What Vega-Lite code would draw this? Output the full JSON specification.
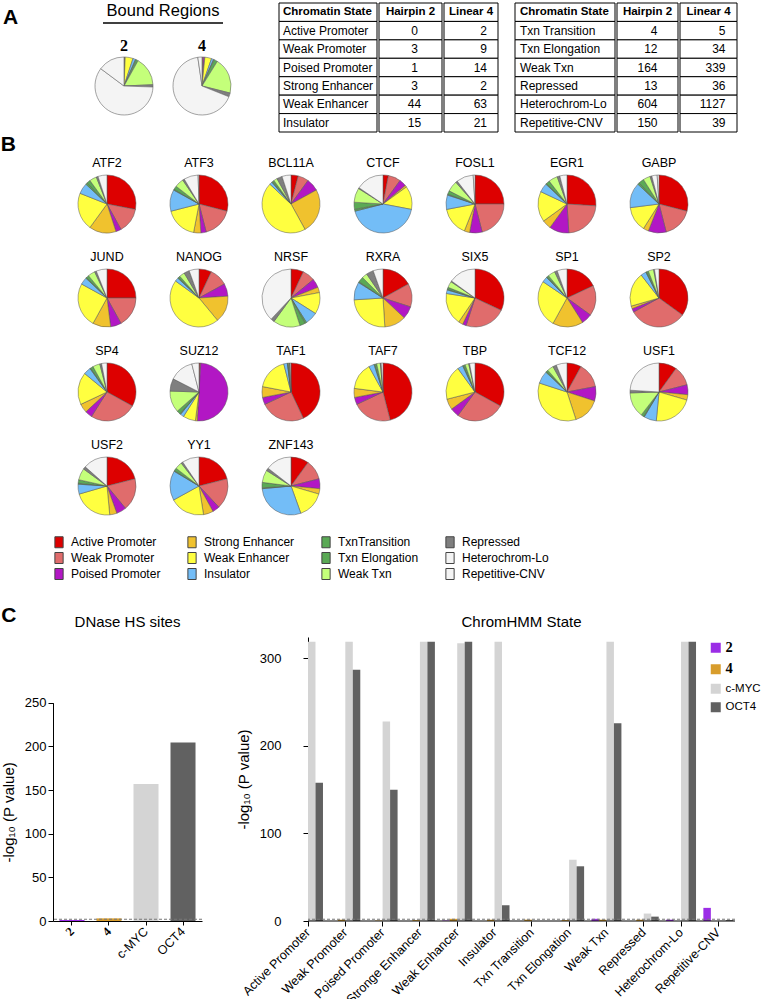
{
"$schema": "https://vega.github.io/schema/vega-lite/v6.json",
"background": "white",
"padding": {"left": 0, "top": 0, "right": 0, "bottom": 0},
"config": {
  "view": {"stroke": null},
  "font": "Liberation Sans",
  "title": {"font": "Liberation Sans", "fontWeight": "normal", "fontSize": 15, "color": "black"},
  "axis": {"labelFont": "Liberation Sans", "titleFont": "Liberation Sans", "labelColor": "black", "titleColor": "black", "domainColor": "black", "tickColor": "black", "grid": false, "titleFontWeight": "normal"},
  "header": {"labelFont": "Liberation Sans", "labelColor": "black"}
},
"datasets": {
  "tableA": [
    {"state": "Active Promoter", "hairpin": 0, "linear": 2},
    {"state": "Weak Promoter", "hairpin": 3, "linear": 9},
    {"state": "Poised Promoter", "hairpin": 1, "linear": 14},
    {"state": "Strong Enhancer", "hairpin": 3, "linear": 2},
    {"state": "Weak Enhancer", "hairpin": 44, "linear": 63},
    {"state": "Insulator", "hairpin": 15, "linear": 21},
    {"state": "Txn Transition", "hairpin": 4, "linear": 5},
    {"state": "Txn Elongation", "hairpin": 12, "linear": 34},
    {"state": "Weak Txn", "hairpin": 164, "linear": 339},
    {"state": "Repressed", "hairpin": 13, "linear": 36},
    {"state": "Heterochrom-Lo", "hairpin": 604, "linear": 1127},
    {"state": "Repetitive-CNV", "hairpin": 150, "linear": 39}
  ],
  "stateOrder": [
    {"state": "Active Promoter", "k": 1}, {"state": "Weak Promoter", "k": 2}, {"state": "Poised Promoter", "k": 3},
    {"state": "Strong Enhancer", "k": 4}, {"state": "Weak Enhancer", "k": 5}, {"state": "Insulator", "k": 6},
    {"state": "Txn Transition", "k": 7}, {"state": "Txn Elongation", "k": 8}, {"state": "Weak Txn", "k": 9},
    {"state": "Repressed", "k": 10}, {"state": "Heterochrom-Lo", "k": 11}, {"state": "Repetitive-CNV", "k": 12}
  ],
  "pies": [
    {"tf":"ATF2","s":"Active Promoter","v":28},{"tf":"ATF2","s":"Weak Promoter","v":14},{"tf":"ATF2","s":"Poised Promoter","v":3},{"tf":"ATF2","s":"Strong Enhancer","v":15},{"tf":"ATF2","s":"Weak Enhancer","v":21},{"tf":"ATF2","s":"Insulator","v":6},{"tf":"ATF2","s":"Txn Transition","v":1},{"tf":"ATF2","s":"Txn Elongation","v":2},{"tf":"ATF2","s":"Weak Txn","v":4},{"tf":"ATF2","s":"Repressed","v":1},{"tf":"ATF2","s":"Heterochrom-Lo","v":5},
    {"tf":"ATF3","s":"Active Promoter","v":29},{"tf":"ATF3","s":"Weak Promoter","v":17},{"tf":"ATF3","s":"Poised Promoter","v":3},{"tf":"ATF3","s":"Strong Enhancer","v":4},{"tf":"ATF3","s":"Weak Enhancer","v":18},{"tf":"ATF3","s":"Insulator","v":12},{"tf":"ATF3","s":"Txn Transition","v":0.5},{"tf":"ATF3","s":"Txn Elongation","v":2},{"tf":"ATF3","s":"Weak Txn","v":5},{"tf":"ATF3","s":"Repressed","v":1},{"tf":"ATF3","s":"Heterochrom-Lo","v":8},{"tf":"ATF3","s":"Repetitive-CNV","v":0.5},
    {"tf":"BCL11A","s":"Active Promoter","v":4},{"tf":"BCL11A","s":"Weak Promoter","v":6},{"tf":"BCL11A","s":"Poised Promoter","v":7},{"tf":"BCL11A","s":"Strong Enhancer","v":25},{"tf":"BCL11A","s":"Weak Enhancer","v":45},{"tf":"BCL11A","s":"Insulator","v":1.5},{"tf":"BCL11A","s":"Txn Transition","v":0.5},{"tf":"BCL11A","s":"Txn Elongation","v":1},{"tf":"BCL11A","s":"Weak Txn","v":2},{"tf":"BCL11A","s":"Repressed","v":3},{"tf":"BCL11A","s":"Heterochrom-Lo","v":5},
    {"tf":"CTCF","s":"Active Promoter","v":3},{"tf":"CTCF","s":"Weak Promoter","v":7},{"tf":"CTCF","s":"Poised Promoter","v":4},{"tf":"CTCF","s":"Strong Enhancer","v":1},{"tf":"CTCF","s":"Weak Enhancer","v":13},{"tf":"CTCF","s":"Insulator","v":43},{"tf":"CTCF","s":"Txn Transition","v":1},{"tf":"CTCF","s":"Txn Elongation","v":4},{"tf":"CTCF","s":"Weak Txn","v":8},{"tf":"CTCF","s":"Repressed","v":0.5},{"tf":"CTCF","s":"Heterochrom-Lo","v":15.5},
    {"tf":"FOSL1","s":"Active Promoter","v":25},{"tf":"FOSL1","s":"Weak Promoter","v":21},{"tf":"FOSL1","s":"Poised Promoter","v":7},{"tf":"FOSL1","s":"Strong Enhancer","v":3},{"tf":"FOSL1","s":"Weak Enhancer","v":16},{"tf":"FOSL1","s":"Insulator","v":8},{"tf":"FOSL1","s":"Txn Transition","v":0.5},{"tf":"FOSL1","s":"Txn Elongation","v":2},{"tf":"FOSL1","s":"Weak Txn","v":6},{"tf":"FOSL1","s":"Repressed","v":1},{"tf":"FOSL1","s":"Heterochrom-Lo","v":9.5},{"tf":"FOSL1","s":"Repetitive-CNV","v":1},
    {"tf":"EGR1","s":"Active Promoter","v":26},{"tf":"EGR1","s":"Weak Promoter","v":23},{"tf":"EGR1","s":"Poised Promoter","v":11},{"tf":"EGR1","s":"Strong Enhancer","v":5},{"tf":"EGR1","s":"Weak Enhancer","v":17},{"tf":"EGR1","s":"Insulator","v":5},{"tf":"EGR1","s":"Txn Transition","v":0.5},{"tf":"EGR1","s":"Txn Elongation","v":2},{"tf":"EGR1","s":"Weak Txn","v":5},{"tf":"EGR1","s":"Repressed","v":1.5},{"tf":"EGR1","s":"Heterochrom-Lo","v":4},
    {"tf":"GABP","s":"Active Promoter","v":29},{"tf":"GABP","s":"Weak Promoter","v":17},{"tf":"GABP","s":"Poised Promoter","v":10},{"tf":"GABP","s":"Strong Enhancer","v":3},{"tf":"GABP","s":"Weak Enhancer","v":14},{"tf":"GABP","s":"Insulator","v":14},{"tf":"GABP","s":"Txn Transition","v":1},{"tf":"GABP","s":"Txn Elongation","v":3},{"tf":"GABP","s":"Weak Txn","v":4},{"tf":"GABP","s":"Repressed","v":1},{"tf":"GABP","s":"Heterochrom-Lo","v":3},{"tf":"GABP","s":"Repetitive-CNV","v":1},
    {"tf":"JUND","s":"Active Promoter","v":25},{"tf":"JUND","s":"Weak Promoter","v":17},{"tf":"JUND","s":"Poised Promoter","v":6},{"tf":"JUND","s":"Strong Enhancer","v":10},{"tf":"JUND","s":"Weak Enhancer","v":25},{"tf":"JUND","s":"Insulator","v":4},{"tf":"JUND","s":"Txn Transition","v":0.5},{"tf":"JUND","s":"Txn Elongation","v":1.5},{"tf":"JUND","s":"Weak Txn","v":4},{"tf":"JUND","s":"Repressed","v":1},{"tf":"JUND","s":"Heterochrom-Lo","v":6},
    {"tf":"NANOG","s":"Active Promoter","v":7},{"tf":"NANOG","s":"Weak Promoter","v":10},{"tf":"NANOG","s":"Poised Promoter","v":7},{"tf":"NANOG","s":"Strong Enhancer","v":15},{"tf":"NANOG","s":"Weak Enhancer","v":46},{"tf":"NANOG","s":"Insulator","v":2},{"tf":"NANOG","s":"Txn Transition","v":0.5},{"tf":"NANOG","s":"Txn Elongation","v":1},{"tf":"NANOG","s":"Weak Txn","v":3},{"tf":"NANOG","s":"Repressed","v":3},{"tf":"NANOG","s":"Heterochrom-Lo","v":5.5},
    {"tf":"NRSF","s":"Active Promoter","v":7},{"tf":"NRSF","s":"Weak Promoter","v":7},{"tf":"NRSF","s":"Poised Promoter","v":5},{"tf":"NRSF","s":"Strong Enhancer","v":3},{"tf":"NRSF","s":"Weak Enhancer","v":12},{"tf":"NRSF","s":"Insulator","v":7},{"tf":"NRSF","s":"Txn Transition","v":1},{"tf":"NRSF","s":"Txn Elongation","v":3},{"tf":"NRSF","s":"Weak Txn","v":15},{"tf":"NRSF","s":"Repressed","v":2},{"tf":"NRSF","s":"Heterochrom-Lo","v":38},
    {"tf":"RXRA","s":"Active Promoter","v":17},{"tf":"RXRA","s":"Weak Promoter","v":13},{"tf":"RXRA","s":"Poised Promoter","v":7},{"tf":"RXRA","s":"Strong Enhancer","v":12},{"tf":"RXRA","s":"Weak Enhancer","v":25},{"tf":"RXRA","s":"Insulator","v":10},{"tf":"RXRA","s":"Txn Transition","v":0.5},{"tf":"RXRA","s":"Txn Elongation","v":3},{"tf":"RXRA","s":"Weak Txn","v":3},{"tf":"RXRA","s":"Repressed","v":4},{"tf":"RXRA","s":"Heterochrom-Lo","v":5.5},
    {"tf":"SIX5","s":"Active Promoter","v":32},{"tf":"SIX5","s":"Weak Promoter","v":23},{"tf":"SIX5","s":"Poised Promoter","v":2},{"tf":"SIX5","s":"Strong Enhancer","v":2.5},{"tf":"SIX5","s":"Weak Enhancer","v":18},{"tf":"SIX5","s":"Insulator","v":2},{"tf":"SIX5","s":"Txn Transition","v":0.5},{"tf":"SIX5","s":"Txn Elongation","v":1},{"tf":"SIX5","s":"Weak Txn","v":3.5},{"tf":"SIX5","s":"Repressed","v":0.5},{"tf":"SIX5","s":"Heterochrom-Lo","v":15},
    {"tf":"SP1","s":"Active Promoter","v":18},{"tf":"SP1","s":"Weak Promoter","v":17},{"tf":"SP1","s":"Poised Promoter","v":6},{"tf":"SP1","s":"Strong Enhancer","v":17},{"tf":"SP1","s":"Weak Enhancer","v":26.5},{"tf":"SP1","s":"Insulator","v":3},{"tf":"SP1","s":"Txn Transition","v":0.5},{"tf":"SP1","s":"Txn Elongation","v":1},{"tf":"SP1","s":"Weak Txn","v":4},{"tf":"SP1","s":"Repressed","v":1.5},{"tf":"SP1","s":"Heterochrom-Lo","v":5.5},
    {"tf":"SP2","s":"Active Promoter","v":35},{"tf":"SP2","s":"Weak Promoter","v":32},{"tf":"SP2","s":"Poised Promoter","v":2},{"tf":"SP2","s":"Strong Enhancer","v":1.5},{"tf":"SP2","s":"Weak Enhancer","v":19},{"tf":"SP2","s":"Insulator","v":3},{"tf":"SP2","s":"Txn Transition","v":0.5},{"tf":"SP2","s":"Txn Elongation","v":1},{"tf":"SP2","s":"Weak Txn","v":3},{"tf":"SP2","s":"Repressed","v":0.5},{"tf":"SP2","s":"Heterochrom-Lo","v":2.5},
    {"tf":"SP4","s":"Active Promoter","v":33},{"tf":"SP4","s":"Weak Promoter","v":26},{"tf":"SP4","s":"Poised Promoter","v":4},{"tf":"SP4","s":"Strong Enhancer","v":5},{"tf":"SP4","s":"Weak Enhancer","v":18},{"tf":"SP4","s":"Insulator","v":4},{"tf":"SP4","s":"Txn Transition","v":0.5},{"tf":"SP4","s":"Txn Elongation","v":1.5},{"tf":"SP4","s":"Weak Txn","v":4},{"tf":"SP4","s":"Repressed","v":1},{"tf":"SP4","s":"Heterochrom-Lo","v":3},
    {"tf":"SUZ12","s":"Active Promoter","v":0.5},{"tf":"SUZ12","s":"Weak Promoter","v":0.5},{"tf":"SUZ12","s":"Poised Promoter","v":50},{"tf":"SUZ12","s":"Strong Enhancer","v":1},{"tf":"SUZ12","s":"Weak Enhancer","v":7},{"tf":"SUZ12","s":"Insulator","v":2},{"tf":"SUZ12","s":"Txn Transition","v":0.5},{"tf":"SUZ12","s":"Txn Elongation","v":2},{"tf":"SUZ12","s":"Weak Txn","v":12},{"tf":"SUZ12","s":"Repressed","v":7},{"tf":"SUZ12","s":"Heterochrom-Lo","v":13.5},{"tf":"SUZ12","s":"Repetitive-CNV","v":4},
    {"tf":"TAF1","s":"Active Promoter","v":43},{"tf":"TAF1","s":"Weak Promoter","v":25},{"tf":"TAF1","s":"Poised Promoter","v":4},{"tf":"TAF1","s":"Strong Enhancer","v":6},{"tf":"TAF1","s":"Weak Enhancer","v":18},{"tf":"TAF1","s":"Insulator","v":2},{"tf":"TAF1","s":"Txn Transition","v":0.2},{"tf":"TAF1","s":"Txn Elongation","v":0.5},{"tf":"TAF1","s":"Weak Txn","v":0.5},{"tf":"TAF1","s":"Repressed","v":0.3},{"tf":"TAF1","s":"Heterochrom-Lo","v":0.5},
    {"tf":"TAF7","s":"Active Promoter","v":46},{"tf":"TAF7","s":"Weak Promoter","v":22},{"tf":"TAF7","s":"Poised Promoter","v":4},{"tf":"TAF7","s":"Strong Enhancer","v":5},{"tf":"TAF7","s":"Weak Enhancer","v":15},{"tf":"TAF7","s":"Insulator","v":3},{"tf":"TAF7","s":"Txn Transition","v":0.5},{"tf":"TAF7","s":"Txn Elongation","v":1},{"tf":"TAF7","s":"Weak Txn","v":2},{"tf":"TAF7","s":"Repressed","v":0.5},{"tf":"TAF7","s":"Heterochrom-Lo","v":1},
    {"tf":"TBP","s":"Active Promoter","v":33},{"tf":"TBP","s":"Weak Promoter","v":27},{"tf":"TBP","s":"Poised Promoter","v":5},{"tf":"TBP","s":"Strong Enhancer","v":6},{"tf":"TBP","s":"Weak Enhancer","v":19},{"tf":"TBP","s":"Insulator","v":3},{"tf":"TBP","s":"Txn Transition","v":0.5},{"tf":"TBP","s":"Txn Elongation","v":1},{"tf":"TBP","s":"Weak Txn","v":2},{"tf":"TBP","s":"Repressed","v":0.5},{"tf":"TBP","s":"Heterochrom-Lo","v":3},
    {"tf":"TCF12","s":"Active Promoter","v":8},{"tf":"TCF12","s":"Weak Promoter","v":14},{"tf":"TCF12","s":"Poised Promoter","v":8},{"tf":"TCF12","s":"Strong Enhancer","v":15},{"tf":"TCF12","s":"Weak Enhancer","v":35},{"tf":"TCF12","s":"Insulator","v":7},{"tf":"TCF12","s":"Txn Transition","v":0.5},{"tf":"TCF12","s":"Txn Elongation","v":1},{"tf":"TCF12","s":"Weak Txn","v":3.5},{"tf":"TCF12","s":"Repressed","v":2},{"tf":"TCF12","s":"Heterochrom-Lo","v":6},
    {"tf":"USF1","s":"Active Promoter","v":10},{"tf":"USF1","s":"Weak Promoter","v":11},{"tf":"USF1","s":"Poised Promoter","v":5.5},{"tf":"USF1","s":"Strong Enhancer","v":3},{"tf":"USF1","s":"Weak Enhancer","v":22},{"tf":"USF1","s":"Insulator","v":7},{"tf":"USF1","s":"Txn Transition","v":0.5},{"tf":"USF1","s":"Txn Elongation","v":1.5},{"tf":"USF1","s":"Weak Txn","v":14},{"tf":"USF1","s":"Repressed","v":1.5},{"tf":"USF1","s":"Heterochrom-Lo","v":24},
    {"tf":"USF2","s":"Active Promoter","v":21},{"tf":"USF2","s":"Weak Promoter","v":18},{"tf":"USF2","s":"Poised Promoter","v":5.5},{"tf":"USF2","s":"Strong Enhancer","v":4},{"tf":"USF2","s":"Weak Enhancer","v":22},{"tf":"USF2","s":"Insulator","v":5.5},{"tf":"USF2","s":"Txn Transition","v":0.5},{"tf":"USF2","s":"Txn Elongation","v":2},{"tf":"USF2","s":"Weak Txn","v":6.5},{"tf":"USF2","s":"Repressed","v":1.5},{"tf":"USF2","s":"Heterochrom-Lo","v":13.5},
    {"tf":"YY1","s":"Active Promoter","v":21},{"tf":"YY1","s":"Weak Promoter","v":17},{"tf":"YY1","s":"Poised Promoter","v":4},{"tf":"YY1","s":"Strong Enhancer","v":5.5},{"tf":"YY1","s":"Weak Enhancer","v":19.5},{"tf":"YY1","s":"Insulator","v":16.5},{"tf":"YY1","s":"Txn Transition","v":0.5},{"tf":"YY1","s":"Txn Elongation","v":1.5},{"tf":"YY1","s":"Weak Txn","v":4},{"tf":"YY1","s":"Repressed","v":1},{"tf":"YY1","s":"Heterochrom-Lo","v":9.5},
    {"tf":"ZNF143","s":"Active Promoter","v":10},{"tf":"ZNF143","s":"Weak Promoter","v":11},{"tf":"ZNF143","s":"Poised Promoter","v":5.5},{"tf":"ZNF143","s":"Strong Enhancer","v":3},{"tf":"ZNF143","s":"Weak Enhancer","v":15},{"tf":"ZNF143","s":"Insulator","v":29},{"tf":"ZNF143","s":"Txn Transition","v":0.5},{"tf":"ZNF143","s":"Txn Elongation","v":3},{"tf":"ZNF143","s":"Weak Txn","v":7},{"tf":"ZNF143","s":"Repressed","v":1.5},{"tf":"ZNF143","s":"Heterochrom-Lo","v":14.5}
  ],
  "dnase": [
    {"g": "2", "v": 1.2}, {"g": "4", "v": 3}, {"g": "c-MYC", "v": 157}, {"g": "OCT4", "v": 204.5}
  ],
  "chrom": [
    {"state":"Active Promoter","g":"2","v":0},{"state":"Active Promoter","g":"4","v":0},{"state":"Active Promoter","g":"c-MYC","v":319},{"state":"Active Promoter","g":"OCT4","v":158},
    {"state":"Weak Promoter","g":"2","v":0},{"state":"Weak Promoter","g":"4","v":1.5},{"state":"Weak Promoter","g":"c-MYC","v":319},{"state":"Weak Promoter","g":"OCT4","v":287},
    {"state":"Poised Promoter","g":"2","v":0},{"state":"Poised Promoter","g":"4","v":0.5},{"state":"Poised Promoter","g":"c-MYC","v":228},{"state":"Poised Promoter","g":"OCT4","v":150},
    {"state":"Stronge Enhancer","g":"2","v":0},{"state":"Stronge Enhancer","g":"4","v":1},{"state":"Stronge Enhancer","g":"c-MYC","v":319},{"state":"Stronge Enhancer","g":"OCT4","v":319},
    {"state":"Weak Enhancer","g":"2","v":0.5},{"state":"Weak Enhancer","g":"4","v":2.5},{"state":"Weak Enhancer","g":"c-MYC","v":317.5},{"state":"Weak Enhancer","g":"OCT4","v":319},
    {"state":"Insulator","g":"2","v":0},{"state":"Insulator","g":"4","v":1.5},{"state":"Insulator","g":"c-MYC","v":319},{"state":"Insulator","g":"OCT4","v":18},
    {"state":"Txn Transition","g":"2","v":0},{"state":"Txn Transition","g":"4","v":1.5},{"state":"Txn Transition","g":"c-MYC","v":0},{"state":"Txn Transition","g":"OCT4","v":0},
    {"state":"Txn Elongation","g":"2","v":0},{"state":"Txn Elongation","g":"4","v":1},{"state":"Txn Elongation","g":"c-MYC","v":70},{"state":"Txn Elongation","g":"OCT4","v":62.5},
    {"state":"Weak Txn","g":"2","v":2.5},{"state":"Weak Txn","g":"4","v":1.5},{"state":"Weak Txn","g":"c-MYC","v":319},{"state":"Weak Txn","g":"OCT4","v":226},
    {"state":"Repressed","g":"2","v":0},{"state":"Repressed","g":"4","v":1.5},{"state":"Repressed","g":"c-MYC","v":8.5},{"state":"Repressed","g":"OCT4","v":5},
    {"state":"Heterochrom-Lo","g":"2","v":1.5},{"state":"Heterochrom-Lo","g":"4","v":0},{"state":"Heterochrom-Lo","g":"c-MYC","v":319},{"state":"Heterochrom-Lo","g":"OCT4","v":319},
    {"state":"Repetitive-CNV","g":"2","v":15},{"state":"Repetitive-CNV","g":"4","v":0},{"state":"Repetitive-CNV","g":"c-MYC","v":0.5},{"state":"Repetitive-CNV","g":"OCT4","v":1}
  ]
},
"resolve": {"scale": {"color": "independent"}, "legend": {"color": "independent"}},
"spacing": 0,
"vconcat": [
  {
    "title": {"text": "A", "anchor": "start", "fontSize": 21, "fontWeight": "bold", "dx": -50, "dy": 31},
    "spacing": 0,
    "resolve": {"scale": {"color": "independent", "y": "independent", "x": "independent"}},
    "hconcat": [
      {"width": 40, "height": 1, "data": {"values": [{}]}, "mark": {"type": "point", "opacity": 0}},
      {
        "spacing": 14,
        "vconcat": [
          {
            "width": 120, "height": 20,
            "data": {"values": [{}]},
            "layer": [
              {"mark": {"type": "text", "text": "Bound Regions", "fontSize": 16.5, "dy": -2, "font": "Liberation Sans"}},
              {"mark": {"type": "rule", "color": "black", "strokeWidth": 1.5}, "encoding": {"y": {"datum": 0, "scale": {"domain": [0, 1]}, "axis": null}}}
            ]
          },
          {
            "data": {"name": "tableA"},
            "transform": [
              {"fold": ["hairpin", "linear"], "as": ["construct", "n"]},
              {"lookup": "state", "from": {"data": {"name": "stateOrder"}, "key": "state", "fields": ["k"]}}
            ],
            "facet": {"column": {"field": "construct", "type": "nominal", "header": {"title": null, "labelExpr": "datum.value == 'hairpin' ? '2' : '4'", "labelFont": "Liberation Serif", "labelFontWeight": "bold", "labelFontSize": 16, "labelPadding": 1}}},
            "spacing": 16,
            "spec": {
              "width": 42, "height": 58,
              "mark": {"type": "arc", "outerRadius": 29, "stroke": "#666", "strokeWidth": 0.6},
              "encoding": {
                "theta": {"field": "n", "type": "quantitative", "stack": true},
                "order": {"field": "k", "type": "quantitative"},
                "color": {"field": "state", "type": "nominal", "legend": null,
                  "scale": {"domain": ["Active Promoter","Strong Enhancer","Txn Transition","Repressed","Weak Promoter","Weak Enhancer","Txn Elongation","Heterochrom-Lo","Poised Promoter","Insulator","Weak Txn","Repetitive-CNV"],
                            "range": ["#dd0000","#f0c22e","#5aa955","#7f7f7f","#e06c6c","#ffff40","#5aa955","#f4f4f4","#b217c4","#73bdf7","#c4ff7a","#f4f4f4"]}}
              }
            }
          }
        ]
      },
      {"width": 45, "height": 1, "data": {"values": [{}]}, "mark": {"type": "point", "opacity": 0}},
      {
        "spacing": 0,
        "hconcat": [
          {
            "width": 98, "height": 129,
            "layer": [
              {"data": {"values": [{}]}, "mark": {"type": "rect", "fill": "white", "stroke": "black", "strokeWidth": 1}, "encoding": {"y": {"datum": "hdr", "type": "nominal", "scale": {"domain": ["hdr","Active Promoter","Weak Promoter","Poised Promoter","Strong Enhancer","Weak Enhancer","Insulator"], "paddingInner": 0, "paddingOuter": 0}, "axis": null}}},
              {"data": {"values": [{}]}, "mark": {"type": "text", "text": "Chromatin State", "fontWeight": "bold", "fontSize": 11.5, "align": "left", "dx": -45}, "encoding": {"y": {"datum": "hdr", "type": "nominal"}}},
              {"data": {"name": "tableA"}, "transform": [{"filter": {"field": "state", "oneOf": ["Active Promoter","Weak Promoter","Poised Promoter","Strong Enhancer","Weak Enhancer","Insulator"]}}], "mark": {"type": "rect", "fill": "white", "stroke": "black", "strokeWidth": 1}, "encoding": {"y": {"field": "state", "type": "nominal"}}},
              {"data": {"name": "tableA"}, "transform": [{"filter": {"field": "state", "oneOf": ["Active Promoter","Weak Promoter","Poised Promoter","Strong Enhancer","Weak Enhancer","Insulator"]}}], "mark": {"type": "text", "fontSize": 12, "align": "left", "dx": -45}, "encoding": {"y": {"field": "state", "type": "nominal"}, "text": {"field": "state"}}}
            ]
          },
          {
            "width": 63, "height": 129,
            "layer": [
              {"data": {"values": [{}]}, "mark": {"type": "rect", "fill": "white", "stroke": "black", "strokeWidth": 1}, "encoding": {"y": {"datum": "hdr", "type": "nominal", "scale": {"domain": ["hdr","Active Promoter","Weak Promoter","Poised Promoter","Strong Enhancer","Weak Enhancer","Insulator"], "paddingInner": 0, "paddingOuter": 0}, "axis": null}}},
              {"data": {"values": [{}]}, "mark": {"type": "text", "text": "Hairpin 2", "fontWeight": "bold", "fontSize": 11.5}, "encoding": {"y": {"datum": "hdr", "type": "nominal"}}},
              {"data": {"name": "tableA"}, "transform": [{"filter": {"field": "state", "oneOf": ["Active Promoter","Weak Promoter","Poised Promoter","Strong Enhancer","Weak Enhancer","Insulator"]}}], "mark": {"type": "rect", "fill": "white", "stroke": "black", "strokeWidth": 1}, "encoding": {"y": {"field": "state", "type": "nominal"}}},
              {"data": {"name": "tableA"}, "transform": [{"filter": {"field": "state", "oneOf": ["Active Promoter","Weak Promoter","Poised Promoter","Strong Enhancer","Weak Enhancer","Insulator"]}}], "mark": {"type": "text", "fontSize": 12, "dx": 4}, "encoding": {"y": {"field": "state", "type": "nominal"}, "text": {"field": "hairpin"}}}
            ]
          },
          {
            "width": 54, "height": 129,
            "layer": [
              {"data": {"values": [{}]}, "mark": {"type": "rect", "fill": "white", "stroke": "black", "strokeWidth": 1}, "encoding": {"y": {"datum": "hdr", "type": "nominal", "scale": {"domain": ["hdr","Active Promoter","Weak Promoter","Poised Promoter","Strong Enhancer","Weak Enhancer","Insulator"], "paddingInner": 0, "paddingOuter": 0}, "axis": null}}},
              {"data": {"values": [{}]}, "mark": {"type": "text", "text": "Linear 4", "fontWeight": "bold", "fontSize": 11.5}, "encoding": {"y": {"datum": "hdr", "type": "nominal"}}},
              {"data": {"name": "tableA"}, "transform": [{"filter": {"field": "state", "oneOf": ["Active Promoter","Weak Promoter","Poised Promoter","Strong Enhancer","Weak Enhancer","Insulator"]}}], "mark": {"type": "rect", "fill": "white", "stroke": "black", "strokeWidth": 1}, "encoding": {"y": {"field": "state", "type": "nominal"}}},
              {"data": {"name": "tableA"}, "transform": [{"filter": {"field": "state", "oneOf": ["Active Promoter","Weak Promoter","Poised Promoter","Strong Enhancer","Weak Enhancer","Insulator"]}}], "mark": {"type": "text", "fontSize": 12, "align": "right", "dx": 16}, "encoding": {"y": {"field": "state", "type": "nominal"}, "text": {"field": "linear"}}}
            ]
          }
        ]
      },
      {"width": 15, "height": 1, "data": {"values": [{}]}, "mark": {"type": "point", "opacity": 0}},
      {
        "spacing": 0,
        "hconcat": [
          {
            "width": 100, "height": 129,
            "layer": [
              {"data": {"values": [{}]}, "mark": {"type": "rect", "fill": "white", "stroke": "black", "strokeWidth": 1}, "encoding": {"y": {"datum": "hdr", "type": "nominal", "scale": {"domain": ["hdr","Txn Transition","Txn Elongation","Weak Txn","Repressed","Heterochrom-Lo","Repetitive-CNV"], "paddingInner": 0, "paddingOuter": 0}, "axis": null}}},
              {"data": {"values": [{}]}, "mark": {"type": "text", "text": "Chromatin State", "fontWeight": "bold", "fontSize": 11.5, "align": "left", "dx": -45}, "encoding": {"y": {"datum": "hdr", "type": "nominal"}}},
              {"data": {"name": "tableA"}, "transform": [{"filter": {"field": "state", "oneOf": ["Txn Transition","Txn Elongation","Weak Txn","Repressed","Heterochrom-Lo","Repetitive-CNV"]}}], "mark": {"type": "rect", "fill": "white", "stroke": "black", "strokeWidth": 1}, "encoding": {"y": {"field": "state", "type": "nominal"}}},
              {"data": {"name": "tableA"}, "transform": [{"filter": {"field": "state", "oneOf": ["Txn Transition","Txn Elongation","Weak Txn","Repressed","Heterochrom-Lo","Repetitive-CNV"]}}], "mark": {"type": "text", "fontSize": 12, "align": "left", "dx": -45}, "encoding": {"y": {"field": "state", "type": "nominal"}, "text": {"field": "state"}}}
            ]
          },
          {
            "width": 61, "height": 129,
            "layer": [
              {"data": {"values": [{}]}, "mark": {"type": "rect", "fill": "white", "stroke": "black", "strokeWidth": 1}, "encoding": {"y": {"datum": "hdr", "type": "nominal", "scale": {"domain": ["hdr","Txn Transition","Txn Elongation","Weak Txn","Repressed","Heterochrom-Lo","Repetitive-CNV"], "paddingInner": 0, "paddingOuter": 0}, "axis": null}}},
              {"data": {"values": [{}]}, "mark": {"type": "text", "text": "Hairpin 2", "fontWeight": "bold", "fontSize": 11.5}, "encoding": {"y": {"datum": "hdr", "type": "nominal"}}},
              {"data": {"name": "tableA"}, "transform": [{"filter": {"field": "state", "oneOf": ["Txn Transition","Txn Elongation","Weak Txn","Repressed","Heterochrom-Lo","Repetitive-CNV"]}}], "mark": {"type": "rect", "fill": "white", "stroke": "black", "strokeWidth": 1}, "encoding": {"y": {"field": "state", "type": "nominal"}}},
              {"data": {"name": "tableA"}, "transform": [{"filter": {"field": "state", "oneOf": ["Txn Transition","Txn Elongation","Weak Txn","Repressed","Heterochrom-Lo","Repetitive-CNV"]}}], "mark": {"type": "text", "fontSize": 12, "align": "right", "dx": 10}, "encoding": {"y": {"field": "state", "type": "nominal"}, "text": {"field": "hairpin"}}}
            ]
          },
          {
            "width": 57, "height": 129,
            "layer": [
              {"data": {"values": [{}]}, "mark": {"type": "rect", "fill": "white", "stroke": "black", "strokeWidth": 1}, "encoding": {"y": {"datum": "hdr", "type": "nominal", "scale": {"domain": ["hdr","Txn Transition","Txn Elongation","Weak Txn","Repressed","Heterochrom-Lo","Repetitive-CNV"], "paddingInner": 0, "paddingOuter": 0}, "axis": null}}},
              {"data": {"values": [{}]}, "mark": {"type": "text", "text": "Linear 4", "fontWeight": "bold", "fontSize": 11.5}, "encoding": {"y": {"datum": "hdr", "type": "nominal"}}},
              {"data": {"name": "tableA"}, "transform": [{"filter": {"field": "state", "oneOf": ["Txn Transition","Txn Elongation","Weak Txn","Repressed","Heterochrom-Lo","Repetitive-CNV"]}}], "mark": {"type": "rect", "fill": "white", "stroke": "black", "strokeWidth": 1}, "encoding": {"y": {"field": "state", "type": "nominal"}}},
              {"data": {"name": "tableA"}, "transform": [{"filter": {"field": "state", "oneOf": ["Txn Transition","Txn Elongation","Weak Txn","Repressed","Heterochrom-Lo","Repetitive-CNV"]}}], "mark": {"type": "text", "fontSize": 12, "align": "right", "dx": 17}, "encoding": {"y": {"field": "state", "type": "nominal"}, "text": {"field": "linear"}}}
            ]
          }
        ]
      }
    ]
  },
  {
    "title": {"text": "B", "anchor": "start", "fontSize": 21, "fontWeight": "bold", "dx": -50, "offset": 2},
    "spacing": 4,
    "hconcat": [
      {"width": 1, "height": 1, "data": {"values": [{}]}, "mark": {"type": "point", "opacity": 0}},
      {
        "data": {"name": "pies"},
        "transform": [
          {"lookup": "s", "from": {"data": {"name": "stateOrder"}, "key": "state", "fields": ["k"]}}
        ],
        "facet": {"field": "tf", "type": "nominal", "sort": ["ATF2","ATF3","BCL11A","CTCF","FOSL1","EGR1","GABP","JUND","NANOG","NRSF","RXRA","SIX5","SP1","SP2","SP4","SUZ12","TAF1","TAF7","TBP","TCF12","USF1","USF2","YY1","ZNF143"],
                  "header": {"title": null, "labelFontSize": 12.5, "labelPadding": 5}},
        "columns": 7,
        "spacing": {"row": 16, "column": 0},
        "spec": {
          "width": 92, "height": 58,
          "mark": {"type": "arc", "outerRadius": 29, "stroke": "#555", "strokeWidth": 0.5},
          "encoding": {
            "theta": {"field": "v", "type": "quantitative", "stack": true},
            "order": {"field": "k", "type": "quantitative"},
            "color": {"field": "s", "type": "nominal",
              "scale": {"domain": ["Active Promoter","Strong Enhancer","Txn Transition","Repressed","Weak Promoter","Weak Enhancer","Txn Elongation","Heterochrom-Lo","Poised Promoter","Insulator","Weak Txn","Repetitive-CNV"],
                        "range": ["#dd0000","#f0c22e","#5aa955","#7f7f7f","#e06c6c","#ffff40","#5aa955","#f4f4f4","#b217c4","#73bdf7","#c4ff7a","#f4f4f4"]},
              "legend": {"title": " ", "titleOrient": "bottom", "titlePadding": 9, "titleFontSize": 14, "orient": "bottom", "offset": 20, "columns": 4, "direction": "horizontal", "gridAlign": "each", "columnPadding": 24, "rowPadding": 0,
                         "symbolType": "M-0.75,-1H0.75V1H-0.75Z", "symbolSize": 121, "symbolStrokeColor": "#444", "symbolStrokeWidth": 1, "symbolOpacity": 1,
                         "labelFont": "Liberation Sans", "labelFontSize": 12, "labelColor": "black", "labelLimit": 0, "labelOffset": 6,
                         "labelExpr": "datum.label == 'Txn Transition' ? 'TxnTransition' : datum.label"}}
          }
        }
      }
    ]
  },
  {
    "title": {"text": "C", "anchor": "start", "fontSize": 21, "fontWeight": "bold", "dy": 15},
    "spacing": 33,
    "resolve": {"scale": {"color": "independent", "x": "independent", "y": "independent"}},
    "hconcat": [
      {
        "width": 149, "height": 284,
        "title": {"text": "DNase HS sites", "fontSize": 15, "offset": 7},
        "data": {"name": "dnase"},
        "layer": [
          {"mark": {"type": "bar"},
           "encoding": {
             "x": {"field": "g", "type": "nominal", "sort": ["2","4","c-MYC","OCT4"], "scale": {"paddingInner": 0.324, "paddingOuter": 0.175},
                   "axis": {"title": null, "labelAngle": -45, "labelAlign": "right", "labelBaseline": "middle", "labelFontSize": 12.5, "tickSize": 4, "labelPadding": 4,
                            "labelFont": {"condition": {"test": "datum.value == '2' || datum.value == '4'", "value": "Liberation Serif"}, "value": "Liberation Sans"},
                            "labelFontWeight": {"condition": {"test": "datum.value == '2' || datum.value == '4'", "value": "bold"}, "value": "normal"}}},
             "y": {"field": "v", "type": "quantitative", "scale": {"domain": [0, 250], "range": [284, 65.7], "nice": false},
                   "axis": {"title": "-log₁₀ (P value)", "titleFontSize": 15, "labelFontSize": 13, "values": [0, 50, 100, 150, 200, 250], "tickSize": 5, "titlePadding": 8}},
             "color": {"field": "g", "type": "nominal", "legend": null, "scale": {"domain": ["2","4","c-MYC","OCT4"], "range": ["#9b2de6","#d89d2c","#d4d4d4","#616161"]}}
           }},
          {"data": {"values": [{}]}, "mark": {"type": "rule", "color": "#777", "strokeDash": [3, 2], "strokeWidth": 1}, "encoding": {"y": {"datum": 2}}}
        ]
      },
      {
        "width": 427, "height": 284,
        "title": {"text": "ChromHMM State", "fontSize": 15, "offset": 7},
        "data": {"name": "chrom"},
        "layer": [
          {"mark": {"type": "bar"},
           "encoding": {
             "x": {"field": "state", "type": "nominal", "sort": ["Active Promoter","Weak Promoter","Poised Promoter","Stronge Enhancer","Weak Enhancer","Insulator","Txn Transition","Txn Elongation","Weak Txn","Repressed","Heterochrom-Lo","Repetitive-CNV"],
                   "scale": {"range": [-18.65, 429], "paddingInner": 0, "paddingOuter": 0},
                   "axis": {"title": null, "domain": false, "labelAngle": -45, "labelAlign": "right", "labelBaseline": "middle", "labelFontSize": 12.5, "tickSize": 5, "labelPadding": 4}},
             "xOffset": {"field": "g", "type": "nominal", "sort": ["2","4","c-MYC","OCT4"], "scale": {"paddingInner": 0, "paddingOuter": 0.49}},
             "y": {"field": "v", "type": "quantitative", "scale": {"domain": [0, 324.5], "nice": false},
                   "axis": {"title": "-log₁₀ (P value)", "titleFontSize": 15, "labelFontSize": 13, "values": [0, 100, 200, 300], "tickSize": 5, "labelPadding": 22, "titlePadding": 8}},
             "color": {"field": "g", "type": "nominal", "scale": {"domain": ["2","4","c-MYC","OCT4"], "range": ["#9b2de6","#d89d2c","#d4d4d4","#616161"]},
                       "legend": {"title": null, "orient": "none", "legendX": 402, "legendY": 5, "symbolType": "square", "symbolSize": 100, "symbolStrokeWidth": 0, "symbolOpacity": 1, "rowPadding": 5.5, "labelOffset": 4, "labelFontSize": 12, "labelColor": "black",
                                  "encode": {"labels": {"update": {"font": {"signal": "datum.label == '2' || datum.label == '4' ? 'Liberation Serif' : 'Liberation Sans'"}, "fontWeight": {"signal": "datum.label == '2' || datum.label == '4' ? 'bold' : 'normal'"}, "fontSize": {"signal": "datum.label == '2' || datum.label == '4' ? 14.5 : 11.5"}}}}}}
           }},
          {"data": {"values": [{}]}, "mark": {"type": "rule", "color": "#777", "strokeDash": [3, 2], "strokeWidth": 1}, "encoding": {"y": {"datum": 2}}},
          {"data": {"values": [{}]}, "mark": {"type": "rule", "color": "black", "strokeWidth": 1}, "encoding": {"y": {"datum": 0}}}
        ]
      }
    ]
  }
]
}
